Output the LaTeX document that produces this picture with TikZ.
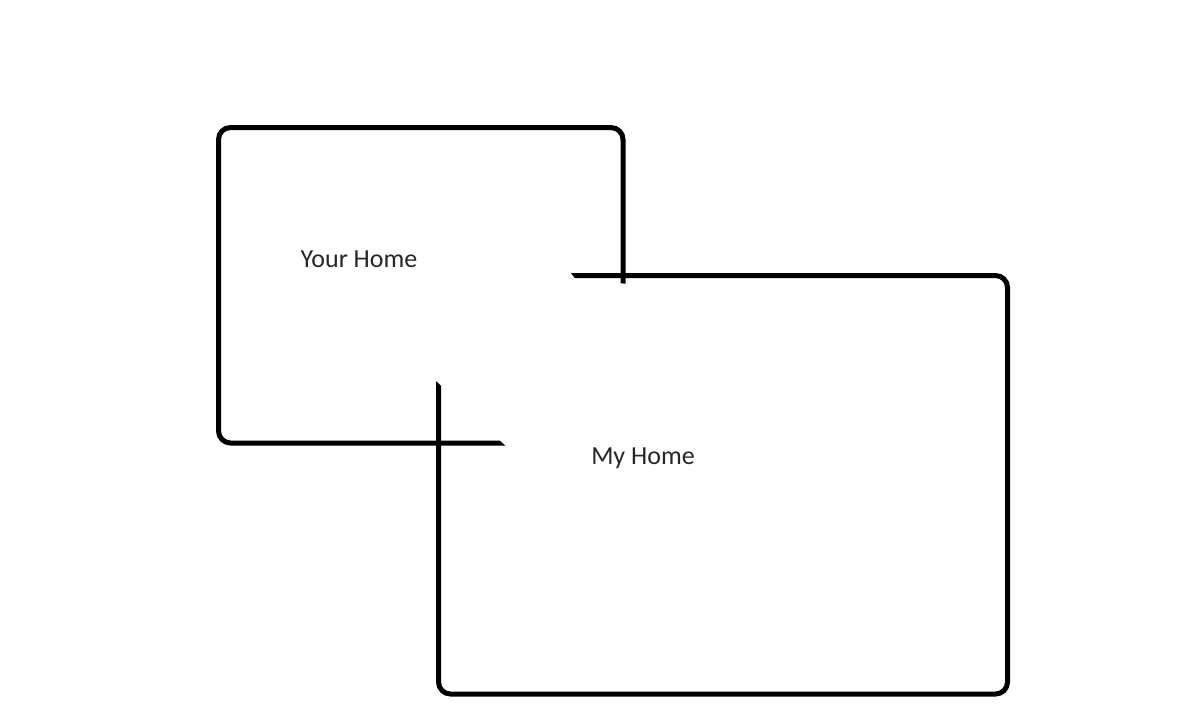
\documentclass[tikz,border=0pt]{standalone}
\usepackage{fontspec}
\setmainfont{Carlito}
\usetikzlibrary{positioning}
\definecolor{inktext}{HTML}{262626}

\begin{document}
\begin{tikzpicture}[
    x=1pt, y=-1pt,
    homebox/.style={draw=black, line width=5pt, rounded corners=12pt, inner sep=0pt, outer sep=0pt},
    homelabel/.style={font=\fontsize{26}{31}\selectfont, text=inktext, inner sep=0pt}
]
\useasboundingbox (0,0) rectangle (1182,720);
\node[homebox, minimum width=404.5pt, minimum height=315.5pt] (yours) at (420.75,285.25) {};
\node[homebox, minimum width=569pt, minimum height=418.5pt] (mine) at (723,484.75) {};
% white patch over the overlap
\fill[white] (434,379) -- (434,268) -- (567,268) -- (576,280) -- (630,284) -- (630,447) -- (507,447) -- cycle;
\node[homelabel] (yourlabel) at (359,259) {Your Home};
\node[homelabel] (mylabel) at (643,458) {My Home};
\end{tikzpicture}
\end{document}
